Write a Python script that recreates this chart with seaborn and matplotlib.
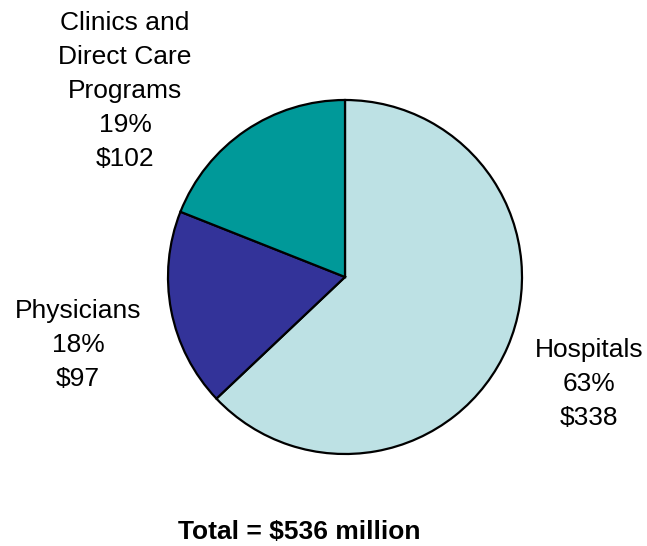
import matplotlib
matplotlib.use("Agg")
import matplotlib.pyplot as plt
import seaborn as sns

categories = ["Hospitals", "Physicians", "Clinics and\nDirect Care\nPrograms"]
values = [338, 97, 102]
percents = ["63%", "18%", "19%"]
amounts = ["$338", "$97", "$102"]
colors = ["#BDE1E4", "#333399", "#009999"]
total_label = "Total = $536 million"

sns.set_theme(style="white")
plt.rcParams["font.family"] = ["Liberation Sans", "DejaVu Sans"]

W, H = 647, 546
fig = plt.figure(figsize=(W / 100, H / 100), dpi=100)
ax = fig.add_axes([0, 0, 1, 1])

cx, cy, r = 345, H - 277, 177
ax.pie(values, colors=colors, startangle=90, counterclock=False,
       center=(cx, cy), radius=r, frame=True,
       wedgeprops=dict(edgecolor="black", linewidth=1.6))
ax.set_xlim(0, W)
ax.set_ylim(0, H)
ax.axis("off")

fs = 19
ls = 1.52
label_pos = [(589, 384), (78, 345), (125, 91)]
for cat, p, a, (x, y) in zip(categories, percents, amounts, label_pos):
    ax.text(x, H - y, f"{cat}\n{p}\n{a}", ha="center", va="center",
            fontsize=fs, linespacing=ls, color="black")

ax.text(299, H - 532, total_label, ha="center", va="center",
        fontsize=19, fontweight="bold", color="black")

fig.savefig("out.png", dpi=100)
